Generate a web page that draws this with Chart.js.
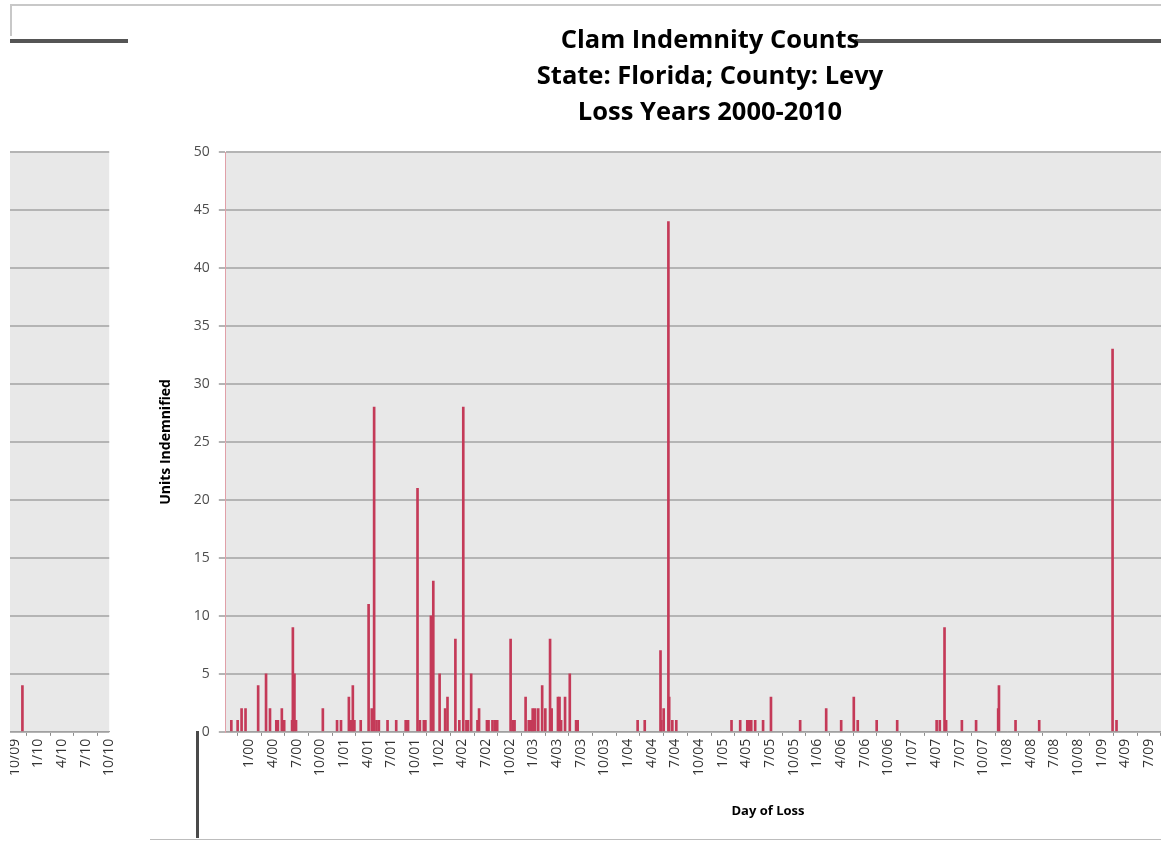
<!DOCTYPE html>
<html>
<head>
<meta charset="utf-8">
<script src="https://cdn.jsdelivr.net/npm/chart.js@4.4.0/dist/chart.umd.min.js"></script>
<style>
  html, body { margin: 0; padding: 0; background: #fff; overflow: hidden; }
  #page { position: relative; width: 1161px; height: 842px; overflow: hidden; font-family: "Open Sans", Lato, sans-serif; }
  #mainChart { position: absolute; left: 150px; top: 0; }
  #wrapPanel { position: absolute; left: 10px; top: 0; width: 140px; height: 842px; overflow: hidden; }
  #wrapChart { position: absolute; left: -1018px; top: 0; }
  .rule { position: absolute; }
  #title { position: absolute; left: 410px; top: 20px; width: 600px; text-align: center;
           font-size: 25.5px; font-weight: bold; line-height: 36px; color: #000; }
  #xTitle { position: absolute; left: 668px; top: 800px; width: 200px; text-align: center;
            font-size: 13px; font-weight: bold; line-height: 20px; color: #000; }
</style>
</head>
<body>
<div id="page">
  <canvas id="mainChart" width="1137" height="842"></canvas>
  <div id="wrapPanel"><canvas id="wrapChart" width="1137" height="842"></canvas></div>
  <div class="rule" style="left:10px;top:4px;width:1151px;height:2px;background:#c8c8c8"></div>
  <div class="rule" style="left:10px;top:4px;width:2px;height:32px;background:#c8c8c8"></div>
  <div class="rule" style="left:10px;top:39px;width:118px;height:4px;background:#555"></div>
  <div class="rule" style="left:855px;top:39px;width:306px;height:4px;background:#555"></div>
  <div class="rule" style="left:196px;top:731px;width:3px;height:107px;background:#4a4a4a"></div>
  <div class="rule" style="left:150px;top:839px;width:1011px;height:1px;background:#bdbdbd"></div>
  <div id="title"></div>
  <div id="xTitle"></div>
</div>
<script>
// months since Jan 2000 for each day of loss, and units indemnified on that day
const lossMonths = [
  -2.3, -1.5, -1.0, -0.5, 1.1, 2.1, 2.6, 3.4, 3.6, 4.1, 4.4, 5.4, 5.5, 5.7, 5.9,
  9.3, 11.1, 11.6, 12.6, 12.9, 13.1, 13.3, 14.1, 15.1, 15.5, 15.8, 16.1, 16.4,
  17.5, 18.6, 19.8, 20.1, 21.3, 21.6, 22.1, 22.3, 23.0, 23.3, 24.1, 24.8, 25.1,
  26.1, 26.6, 27.1, 27.5, 27.7, 28.1, 28.9, 29.1, 30.1, 30.3, 30.8, 31.1, 31.4,
  33.1, 33.4, 33.6, 35.0, 35.4, 35.7, 35.9, 36.2, 36.6, 37.1, 37.5, 38.1, 38.3,
  39.1, 39.3, 39.5, 40.0, 40.6, 41.4, 41.6,
  49.2, 50.1, 52.1, 52.2, 52.5, 53.1, 53.2, 53.6, 54.1,
  61.1, 62.2, 63.1, 63.3, 63.6, 64.1, 65.1, 66.1, 69.8, 73.1, 75.0, 76.6, 77.1, 79.5,
  82.1, 87.1, 87.5, 88.1, 88.3, 90.3, 92.1, 94.9, 95.0, 97.1, 100.1, 109.4, 109.9,
  118.0
];
const unitsIndemnified = [
  1, 1, 2, 2, 4, 5, 2, 1, 1, 2, 1, 1, 9, 5, 1,
  2, 1, 1, 3, 1, 4, 1, 1, 11, 2, 28, 1, 1,
  1, 1, 1, 1, 21, 1, 1, 1, 10, 13, 5, 2, 3,
  8, 1, 28, 1, 1, 5, 1, 2, 1, 1, 1, 1, 1,
  8, 1, 1, 3, 1, 1, 2, 2, 2, 4, 2, 8, 2,
  3, 3, 1, 3, 5, 1, 1,
  1, 1, 7, 1, 2, 44, 3, 1, 1,
  1, 1, 1, 1, 1, 1, 1, 3, 1, 2, 1, 3, 1, 1,
  1, 1, 1, 9, 1, 1, 1, 2, 4, 1, 1, 33, 1,
  4
];
const quarterLabels = [
  '1/00', '4/00', '7/00', '10/00', '1/01', '4/01', '7/01', '10/01',
  '1/02', '4/02', '7/02', '10/02', '1/03', '4/03', '7/03', '10/03',
  '1/04', '4/04', '7/04', '10/04', '1/05', '4/05', '7/05', '10/05',
  '1/06', '4/06', '7/06', '10/06', '1/07', '4/07', '7/07', '10/07',
  '1/08', '4/08', '7/08', '10/08', '1/09', '4/09', '7/09', '10/09',
  '1/10', '4/10', '7/10', '10/10'
];
const titleLines = ['Clam Indemnity Counts', 'State: Florida; County: Levy', 'Loss Years 2000-2010'];

document.getElementById('title').innerHTML = titleLines.join('<br>');
document.getElementById('xTitle').textContent = 'Day of Loss';

Chart.defaults.font.family = '"Open Sans", Lato, sans-serif';

const plotBackground = {
  id: 'plotBackground',
  beforeDraw(chart) {
    const { ctx, chartArea: a } = chart;
    ctx.save();
    ctx.fillStyle = '#e8e8e8';
    ctx.fillRect(a.left, a.top, a.right - a.left, a.bottom - a.top);
    ctx.restore();
  }
};

function makeConfig() {
  return {
    type: 'bar',
    data: {
      datasets: [{
        label: 'Units Indemnified',
        data: lossMonths.map((m, i) => ({ x: m, y: unitsIndemnified[i] })),
        backgroundColor: '#c43a58',
        barThickness: 2
      }]
    },
    options: {
      responsive: false,
      animation: false,
      layout: { padding: { left: 8, right: 2, top: 152, bottom: 63 } },
      plugins: {
        legend: { display: false },
        tooltip: { enabled: false },
        title: { display: false }
      },
      scales: {
        x: {
          type: 'linear',
          min: -3,
          max: 129,
          offset: false,
          afterBuildTicks: scale => {
            scale.ticks = quarterLabels.map((l, i) => ({ value: i * 3 }));
          },
          ticks: {
            autoSkip: false,
            minRotation: 90,
            maxRotation: 90,
            padding: 3,
            color: '#333',
            font: { size: 14 },
            callback: (v, i) => quarterLabels[i]
          },
          grid: { drawOnChartArea: false, drawTicks: true, tickLength: 4, color: '#8c8c8c' },
          border: { display: true, color: '#a0a0a0', width: 1 }
        },
        y: {
          min: 0,
          max: 50,
          ticks: { stepSize: 5, color: '#4d4d4d', font: { size: 14 }, padding: 9 },
          grid: { color: '#b4b4b4', lineWidth: 2, tickLength: 7 },
          border: { display: true, color: '#e0a0a8', width: 1 },
          title: {
            display: true,
            text: 'Units Indemnified',
            color: '#000',
            font: { size: 14, weight: 'bold' },
            padding: { top: 0, bottom: 10 }
          }
        }
      }
    },
    plugins: [plotBackground]
  };
}

new Chart(document.getElementById('mainChart'), makeConfig());
new Chart(document.getElementById('wrapChart'), makeConfig());
</script>
</body>
</html>
